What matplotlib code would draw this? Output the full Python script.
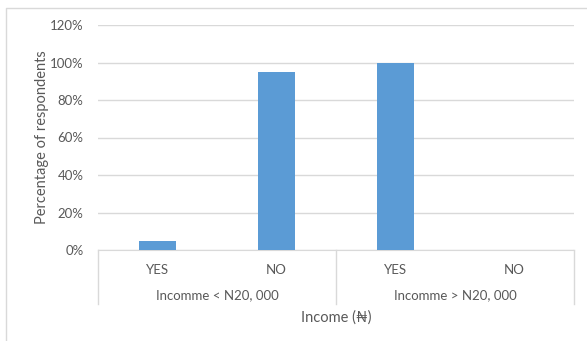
import matplotlib.pyplot as plt
from matplotlib.lines import Line2D
from matplotlib.ticker import PercentFormatter

answers = ['YES', 'NO', 'YES', 'NO']
groups = ['Incomme < N20, 000', 'Incomme > N20, 000']
percent = [5, 95, 100, 0]

plt.rcParams['font.family'] = ['Lato', 'DejaVu Sans']
text_c = '#595959'
grid_c = '#D9D9D9'

fig = plt.figure(figsize=(5.87, 3.41), dpi=100)
ax = fig.add_axes([98 / 587, 1 - 250 / 341, 476 / 587, 225 / 341])

x = list(range(len(answers)))
ax.bar(x, percent, width=0.31, color='#5B9BD5', zorder=3)

ax.set_xlim(-0.5, len(answers) - 0.5)
ax.set_ylim(0, 120)
ax.set_yticks(range(0, 121, 20))
ax.yaxis.set_major_formatter(PercentFormatter(decimals=0))
ax.grid(axis='y', color=grid_c, linewidth=1, zorder=0)
for s in ['top', 'right', 'left']:
    ax.spines[s].set_visible(False)
ax.spines['bottom'].set_color(grid_c)
ax.tick_params(axis='y', length=0, labelsize=9.5, colors=text_c, pad=10.5)
ax.tick_params(axis='x', length=0, labelsize=9.5, colors=text_c, pad=10)
ax.set_xticks(x)
ax.set_xticklabels(answers)
ax.set_ylabel('Percentage of respondents', fontsize=10.5, color=text_c, labelpad=0.5)

# group labels and separators below the axis
tr = ax.get_xaxis_transform()
for b in [-0.5, 1.5, 3.5]:
    ax.add_line(Line2D([b, b], [0, -54 / 225], transform=tr, color=grid_c,
                       linewidth=1, clip_on=False))
for i, g in enumerate(groups):
    ax.text(2 * i + 0.5, -45 / 225, g, transform=tr, ha='center', va='center',
            fontsize=9.5, color=text_c)
ax.text(1.5, -68 / 225, 'Income (\u20a6)', transform=tr, ha='center', va='center',
        fontsize=10.5, color=text_c)

# chart border
fig.add_artist(Line2D([6 / 587, 6 / 587, 1], [0, 1 - 8 / 341, 1 - 8 / 341],
                      transform=fig.transFigure, color=grid_c, linewidth=1))

fig.savefig('out.png', dpi=100)
